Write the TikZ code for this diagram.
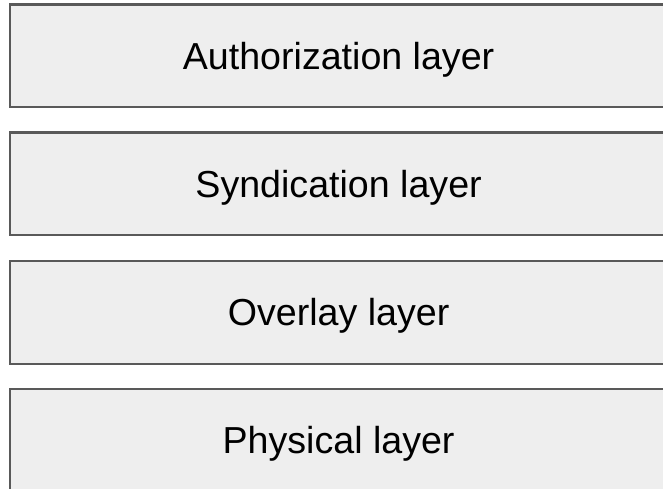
\documentclass[tikz,border=0pt]{standalone}
\usepackage{fontspec}
\setmainfont{Liberation Sans}
\definecolor{boxfill}{HTML}{EEEEEE}
\definecolor{boxline}{HTML}{595959}
\begin{document}
\begin{tikzpicture}[x=1pt,y=1pt,
  layerbox/.style={draw=boxline, line width=2.2pt, fill=boxfill, minimum width=657pt, minimum height=102.5pt, inner sep=0pt, text height=27pt, text depth=0pt, anchor=north west, font=\fontsize{37.6}{44}\selectfont, text=black}]
\useasboundingbox (0,0) rectangle (663,488);
\node[layerbox] (auth) at (9,484.5) {Authorization layer};
\node[layerbox] (synd) at (9,356.5) {Syndication layer};
\node[layerbox] (over) at (9,228) {Overlay layer};
\node[layerbox] (phys) at (9,100) {Physical layer};
\end{tikzpicture}
\end{document}
